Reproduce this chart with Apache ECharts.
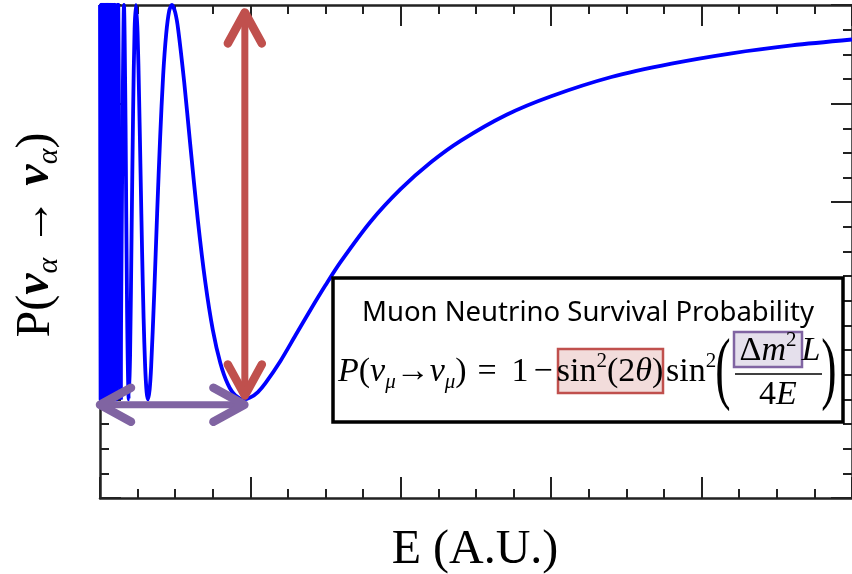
<!DOCTYPE html>
<html>
<head>
<meta charset="utf-8">
<script src="https://cdn.jsdelivr.net/npm/echarts@6/dist/echarts.min.js"></script>
<style>
  html, body { margin: 0; padding: 0; background: #fff; }
  #main { width: 852px; height: 574px; }
</style>
</head>
<body>
<div id="main"></div>
<script>
// 能量 E (A.U.) 与存活概率，读自图中曲线
var energy = [
  0.002, 0.006, 0.010, 0.014, 0.018, 0.022, 0.026, 0.030, 0.034, 0.038,
  0.042, 0.0456, 0.0478, 0.0504, 0.0532, 0.0563, 0.0598, 0.0638, 0.0683, 0.0736,
  0.0797, 0.0870, 0.0957, 0.1063, 0.1196, 0.1366, 0.150, 0.1594, 0.170, 0.180,
  0.1913, 0.200, 0.210, 0.220, 0.230, 0.2392, 0.250, 0.260, 0.270, 0.280,
  0.290, 0.300, 0.310, 0.319, 0.330, 0.340, 0.360, 0.380, 0.400, 0.420,
  0.440, 0.460, 0.478, 0.500, 0.520, 0.560, 0.600, 0.650, 0.700, 0.750,
  0.800, 0.850, 0.900, 0.957, 1.00, 1.05, 1.10, 1.20, 1.30, 1.40,
  1.50, 1.60, 1.80, 2.00, 2.20, 2.40, 2.70, 3.00, 3.40, 3.80,
  4.20, 4.60, 5.00
];
var prob = [
  1.0, 0.2, 1.0, 0.2, 1.0, 0.2, 1.0, 0.2, 1.0, 0.2,
  1.0, 0.2, 1.0, 0.2, 1.0, 0.2, 1.0, 0.2, 1.0, 0.2,
  1.0, 0.2, 1.0, 0.2, 1.0, 0.2, 0.763, 1.0, 0.757, 0.381,
  0.2, 0.289, 0.534, 0.782, 0.951, 1.0, 0.942, 0.812, 0.655, 0.498,
  0.364, 0.268, 0.215, 0.2, 0.220, 0.266, 0.411, 0.578, 0.732, 0.858,
  0.941, 0.988, 1.0, 0.985, 0.950, 0.843, 0.717, 0.565, 0.438, 0.341,
  0.274, 0.231, 0.208, 0.200, 0.204, 0.215, 0.233, 0.278, 0.330, 0.382,
  0.432, 0.479, 0.561, 0.627, 0.681, 0.725, 0.777, 0.815, 0.854, 0.881,
  0.902, 0.918, 0.930
];
// 低能区振荡太密，这部分不做平滑
var denseUntil = 0.1366;
// 坐标轴范围（无刻度标签）
var xRange = [0, 5];
var xStep = 1;
var yRange = [0, 1];
var yStep = 0.2;
// 标注箭头：振幅（竖直）与振荡周期（水平）
var ampArrowE = 0.963;
var ampArrowP = [0.985, 0.208];
var periodArrowE = [0, 0.96];
var periodArrowP = 0.189;

var chart = echarts.init(document.getElementById('main'));

var serif = 'Liberation Serif';
var axisColor = '#222';
var curveColor = '#0000ff';

function makeAxis(pos, range, step) {
  return {
    type: 'value',
    position: pos,
    min: range[0],
    max: range[1],
    interval: step,
    axisLabel: { show: false },
    axisLine: { show: true, onZero: false, lineStyle: { color: axisColor, width: 2.5 } },
    axisTick: { show: true, inside: true, length: 21, lineStyle: { color: axisColor, width: 2 } },
    minorTick: { show: true, splitNumber: 4, length: 9, lineStyle: { color: axisColor, width: 2 } },
    splitLine: { show: false },
    minorSplitLine: { show: false }
  };
}

var data = energy.map(function (e, i) { return [e, prob[i]]; });
var denseData = data.filter(function (d) { return d[0] <= denseUntil; });
var smoothData = data.filter(function (d) { return d[0] >= denseUntil; });

var option = {
  animation: false,
  backgroundColor: '#fff',
  grid: { left: 100, top: 5, width: 757, height: 493 },
  xAxis: [makeAxis('bottom', xRange, xStep), makeAxis('top', xRange, xStep)],
  yAxis: [makeAxis('left', yRange, yStep), makeAxis('right', yRange, yStep)],
  series: [{
    type: 'line',
    data: denseData,
    showSymbol: false,
    smooth: false,
    clip: true,
    lineStyle: { color: curveColor, width: 4.4, join: 'round' },
    z: 3
  }, {
    type: 'line',
    data: smoothData,
    showSymbol: false,
    smooth: 0.3,
    clip: true,
    lineStyle: { color: curveColor, width: 3.8 },
    z: 3
  }]
};
chart.setOption(option);

// 由数据坐标换算出箭头位置
function px(p) { return chart.convertToPixel({ gridIndex: 0 }, p); }
var a1 = px([ampArrowE, ampArrowP[0]]);
var a2 = px([ampArrowE, ampArrowP[1]]);
var b1 = px([periodArrowE[0], periodArrowP]);
var b2 = px([periodArrowE[1], periodArrowP]);

function arrow(p1, p2, color, w) {
  var dx = p2[0] - p1[0], dy = p2[1] - p1[1];
  var len = Math.sqrt(dx * dx + dy * dy);
  var ux = dx / len, uy = dy / len;
  var back = 31, side = 17;
  function head(tip, dir) {
    return {
      type: 'polyline', z: 110,
      shape: { points: [
        [tip[0] + dir * ux * back - uy * side, tip[1] + dir * uy * back + ux * side],
        tip,
        [tip[0] + dir * ux * back + uy * side, tip[1] + dir * uy * back - ux * side]
      ] },
      style: { stroke: color, lineWidth: w + 1.5, lineCap: 'round', lineJoin: 'round', fill: null }
    };
  }
  return [
    { type: 'line', z: 110, shape: { x1: p1[0], y1: p1[1], x2: p2[0], y2: p2[1] },
      style: { stroke: color, lineWidth: w, lineCap: 'round' } },
    head(p1, 1), head(p2, -1)
  ];
}

var mathRich = {
  i: { fontFamily: serif, fontStyle: 'italic', fontSize: 34, lineHeight: 42, verticalAlign: 'middle' },
  r: { fontFamily: serif, fontSize: 34, lineHeight: 42, verticalAlign: 'middle' },
  s: { fontFamily: serif, fontStyle: 'italic', fontSize: 21, lineHeight: 21, verticalAlign: 'bottom' },
  p: { fontFamily: serif, fontSize: 21, lineHeight: 21, verticalAlign: 'top' }
};

function tx(x, y, text, align) {
  return {
    type: 'text', z: 120, x: x, y: y,
    style: {
      text: text, rich: mathRich, fill: '#000',
      font: '34px "' + serif + '"',
      align: align || 'left', verticalAlign: 'middle'
    }
  };
}

function bigParen(x, ch) {
  return { type: 'text', z: 120, x: x, y: 373, scaleY: 1.75,
    style: { text: ch, font: '46px "' + serif + '"', fill: '#000', align: 'center', verticalAlign: 'middle' } };
}

var graphics = [].concat(
  arrow(a1, a2, '#c0504d', 7),
  arrow(b1, b2, '#8064a2', 7),
  [
    // 图例框
    { type: 'rect', z: 100, shape: { x: 333, y: 278, width: 510, height: 144 },
      style: { fill: '#fff', stroke: '#000', lineWidth: 3.5 } },
    { type: 'text', z: 120, x: 588, y: 313,
      style: { text: 'Muon Neutrino Survival Probability', font: '27.5px "Noto Sans"',
        fill: '#000', align: 'center', verticalAlign: 'middle' } },
    { type: 'rect', z: 110, shape: { x: 558, y: 349, width: 105, height: 44 },
      style: { fill: '#f2dcdb', stroke: '#c0504d', lineWidth: 2.5 } },
    { type: 'rect', z: 110, shape: { x: 734, y: 332, width: 68, height: 35 },
      style: { fill: '#e5e0ec', stroke: '#8064a2', lineWidth: 2.5 } },
    tx(338, 372, '{i|P}{r|(}{i|ν}{s|μ}{r|→}{i|ν}{s|μ}{r|)}'),
    tx(487, 372, '{r|=}', 'center'),
    tx(520, 372, '{r|1}', 'center'),
    tx(543, 372, '{r|−}', 'center'),
    tx(610, 372, '{r|sin}{p|2}{r|(2}{i|θ}{r|)}', 'center'),
    tx(666, 372, '{r|sin}{p|2}'),
    bigParen(723, '('),
    tx(768, 351, '{r|Δ}{i|m}{p|2}', 'center'),
    tx(811, 351, '{i|L}', 'center'),
    { type: 'line', z: 120, shape: { x1: 735, y1: 374, x2: 822, y2: 374 },
      style: { stroke: '#000', lineWidth: 1.5 } },
    tx(778, 395, '{r|4}{i|E}', 'center'),
    bigParen(829, ')'),
    // 坐标轴标题
    { type: 'text', z: 120, x: 475, y: 550,
      style: { text: 'E (A.U.)', font: '48px "' + serif + '"', fill: '#000',
        align: 'center', verticalAlign: 'middle' } },
    { type: 'text', z: 120, x: 36, y: 235, rotation: Math.PI / 2,
      style: {
        text: '{m|P(}{i|ν}{s|α}{m| → }{i|ν}{s|α}{m|)}',
        align: 'center', verticalAlign: 'middle', fill: '#000',
        rich: {
          m: { fontFamily: serif, fontSize: 48, lineHeight: 56, verticalAlign: 'middle' },
          i: { fontFamily: serif, fontStyle: 'italic', fontWeight: 'bold', fontSize: 48, lineHeight: 56, verticalAlign: 'middle' },
          s: { fontFamily: serif, fontStyle: 'italic', fontSize: 30, lineHeight: 30, verticalAlign: 'bottom' }
        }
      } }
  ]
);

chart.setOption({ graphic: { elements: graphics } });
</script>
</body>
</html>
